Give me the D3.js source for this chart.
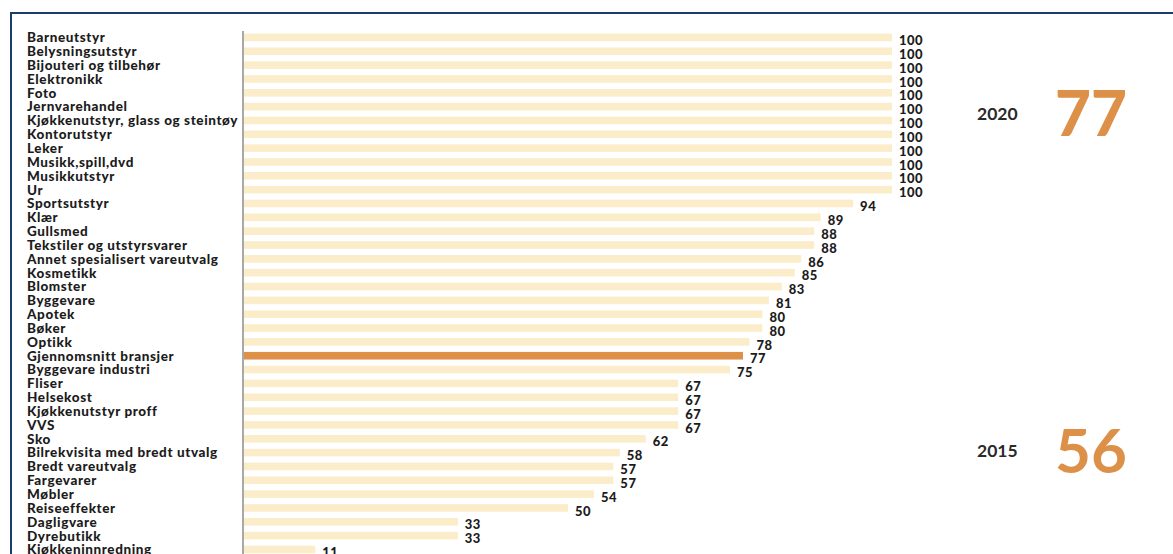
<!DOCTYPE html>
<html>
<head>
<meta charset="utf-8">
<script src="https://cdn.jsdelivr.net/npm/d3@7/dist/d3.min.js"></script>
<style>
  html, body { margin: 0; padding: 0; background: #fff; }
  svg { display: block; }
  text { font-family: Lato, "Open Sans", sans-serif; }
</style>
</head>
<body>
<svg id="chart" width="1173" height="554"></svg>
<script>
// Andel (%) per bransje
const categories = [
  "Barneutstyr", "Belysningsutstyr", "Bijouteri og tilbehør", "Elektronikk", "Foto",
  "Jernvarehandel", "Kjøkkenutstyr, glass og steintøy", "Kontorutstyr", "Leker",
  "Musikk,spill,dvd", "Musikkutstyr", "Ur", "Sportsutstyr", "Klær", "Gullsmed",
  "Tekstiler og utstyrsvarer", "Annet spesialisert vareutvalg", "Kosmetikk", "Blomster",
  "Byggevare", "Apotek", "Bøker", "Optikk", "Gjennomsnitt bransjer", "Byggevare industri",
  "Fliser", "Helsekost", "Kjøkkenutstyr proff", "VVS", "Sko", "Bilrekvisita med bredt utvalg",
  "Bredt vareutvalg", "Fargevarer", "Møbler", "Reiseeffekter", "Dagligvare", "Dyrebutikk",
  "Kjøkkeninnredning"
];
const values = [
  100, 100, 100, 100, 100, 100, 100, 100, 100, 100, 100, 100, 94, 89, 88, 88, 86, 85, 83,
  81, 80, 80, 78, 77, 75, 67, 67, 67, 67, 62, 58, 57, 57, 54, 50, 33, 33, 11
];
const highlight = "Gjennomsnitt bransjer";

// Gjennomsnitt per år
const years = ["2020", "2015"];
const yearValues = [77, 56];

const data = categories.map((c, i) => ({ name: c, value: values[i] }));

const svg = d3.select("#chart");

const x = d3.scaleLinear().domain([0, 100]).range([244, 892]);
const y = d3.scaleBand()
  .domain(categories)
  .range([30.5, 556.4])
  .paddingInner(0.45)
  .paddingOuter(0.225);

// Ramme
svg.append("path")
  .attr("d", "M11,554 L11,13 L1173,13")
  .attr("fill", "none")
  .attr("stroke", "#1d3a6c")
  .attr("stroke-width", 2);

// Søyler
svg.append("g").selectAll("rect")
  .data(data)
  .join("rect")
  .attr("x", x(0))
  .attr("y", d => y(d.name))
  .attr("width", d => x(d.value) - x(0))
  .attr("height", y.bandwidth())
  .attr("fill", d => d.name === highlight ? "#dc9048" : "#fbedc9");

// Akse
svg.append("line")
  .attr("x1", 243).attr("x2", 243)
  .attr("y1", 31).attr("y2", 554)
  .attr("stroke", "#8c8c8c")
  .attr("stroke-width", 1.5);

// Bransjenavn
svg.append("g").selectAll("text")
  .data(data)
  .join("text")
  .attr("x", 27)
  .attr("y", d => y(d.name) + y.bandwidth() / 2)
  .attr("dy", "0.36em")
  .attr("font-size", 13.5)
  .attr("font-weight", 900)
  .attr("letter-spacing", 0.6)
  .attr("fill", "#1c1c1c")
  .text(d => d.name);

// Verdier
svg.append("g").selectAll("text")
  .data(data)
  .join("text")
  .attr("x", d => x(d.value) + 7)
  .attr("y", d => y(d.name) + y.bandwidth() / 2 + 3)
  .attr("dy", "0.36em")
  .attr("font-size", 13)
  .attr("font-weight", 900)
  .attr("letter-spacing", 0.5)
  .attr("fill", "#1c1c1c")
  .text(d => d.value);

// Årstall og gjennomsnitt
const yearY = [114, 451];
const yr = svg.append("g");
years.forEach((yy, i) => {
  yr.append("text")
    .attr("x", 977).attr("y", yearY[i])
    .attr("dy", "0.36em")
    .attr("font-family", "'Open Sans', sans-serif")
    .attr("font-size", 17.5)
    .attr("font-weight", 700)
    .attr("fill", "#2a2a2a")
    .text(yy);
  yr.append("text")
    .attr("x", 1055).attr("y", yearY[i])
    .attr("dy", "0.36em")
    .attr("font-size", 62)
    .attr("font-weight", i === 0 ? 900 : 700)
    .attr("fill", "#dc9048")
    .text(yearValues[i]);
});
</script>
</body>
</html>
